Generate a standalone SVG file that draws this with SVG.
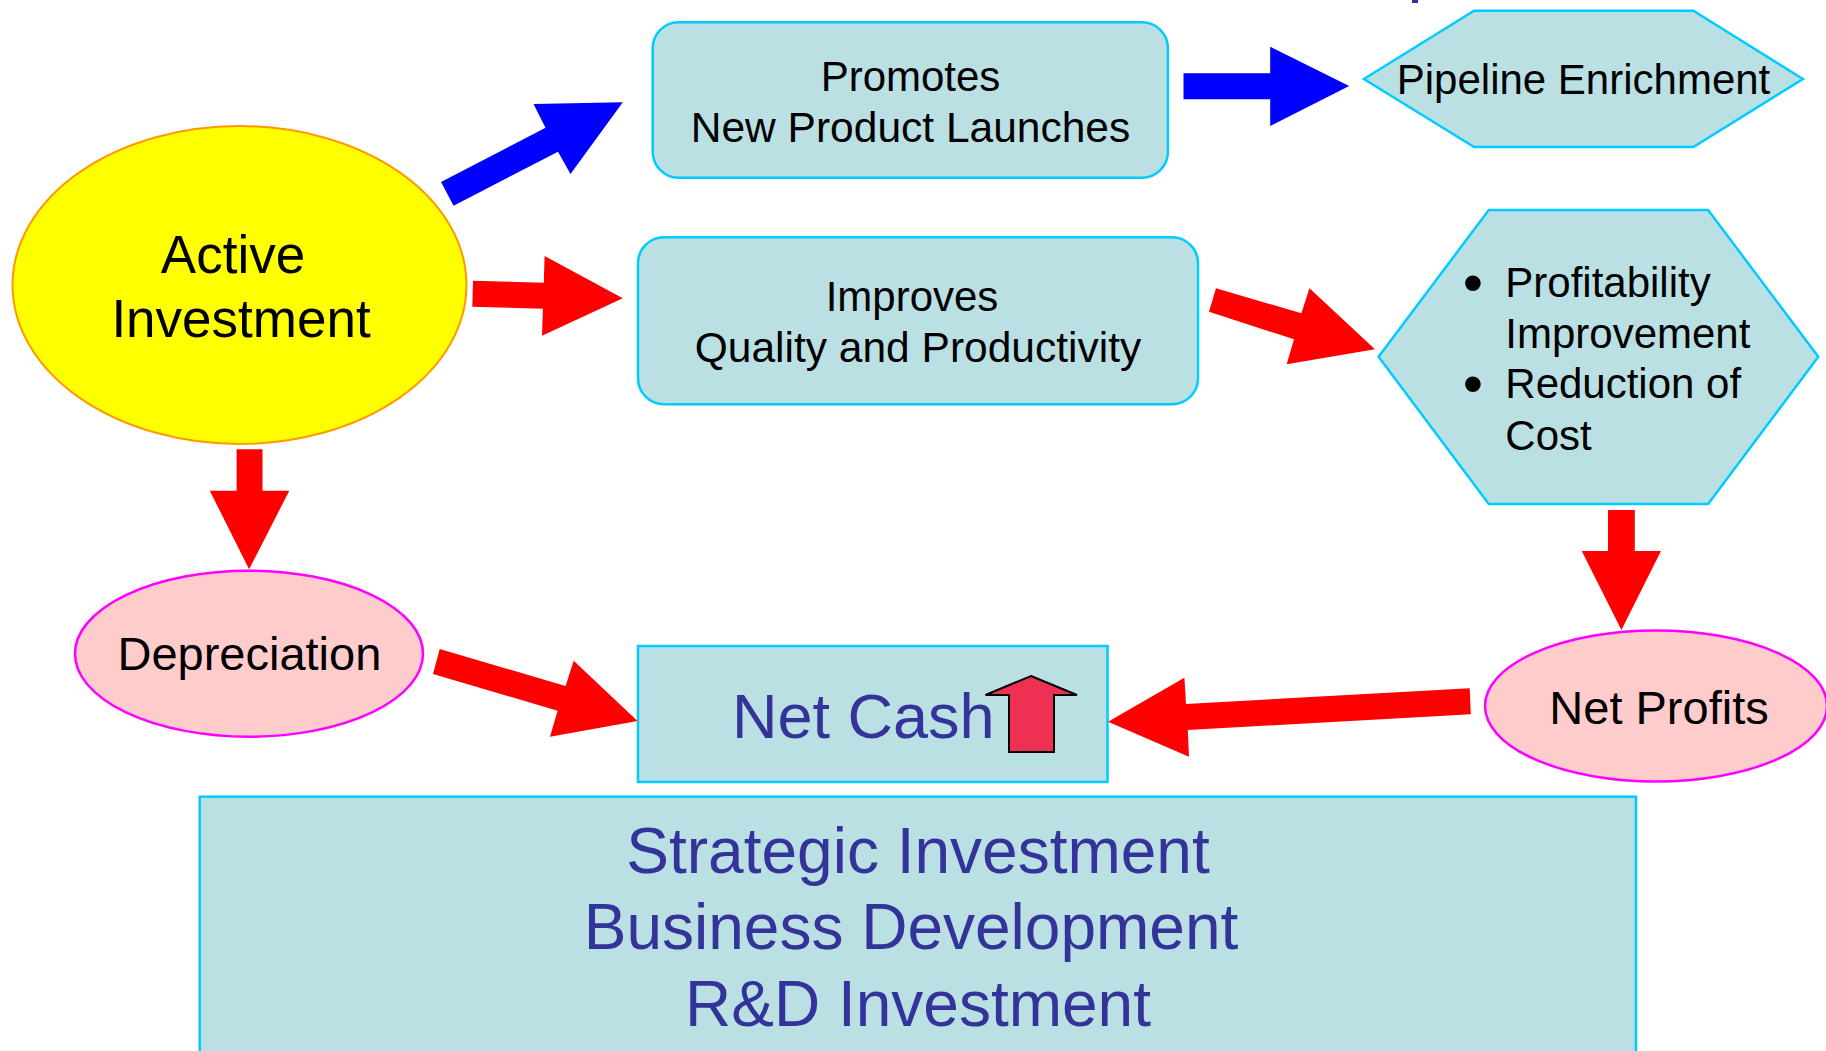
<svg xmlns="http://www.w3.org/2000/svg" width="1826" height="1051" viewBox="0 0 1826 1051">
<style>
.box{fill:#BBE0E3;stroke:#00CCFF;stroke-width:2.5}
.pink{fill:#FFCCCC;stroke:#FF00FF;stroke-width:2.5}
.t{font-family:"Liberation Sans",Arial,sans-serif;fill:#000}
.c{text-anchor:middle}
.navy{fill:#333399}
.red{fill:#FF0000}
.blue{fill:#0000FF}
</style>
<rect width="1826" height="1051" fill="#FFFFFF"/>
<rect x="1412" y="0" width="6" height="3" fill="#333399"/>
<g id="bottom-box">
<rect class="box" x="199.7" y="796.7" width="1436.3" height="300"/>
<text class="t c navy" font-size="64" x="918" y="872.7">Strategic Investment</text>
<text class="t c navy" font-size="64" x="911" y="949.3">Business Development</text>
<text class="t c navy" font-size="64" x="918" y="1026">R&amp;D Investment</text>
</g>
<g id="active-investment">
<ellipse cx="239.5" cy="285" rx="227" ry="159" fill="#FFFF00" stroke="#FF9900" stroke-width="2"/>
<text class="t c" font-size="53" x="233" y="273">Active</text>
<text class="t c" font-size="53" x="241" y="337">Investment</text>
</g>
<g id="promotes">
<rect class="box" x="652.7" y="22.3" width="515.2" height="155.4" rx="26"/>
<text class="t c" font-size="42" x="910.5" y="90.7">Promotes</text>
<text class="t c" font-size="42.5" x="910.5" y="141.7">New Product Launches</text>
</g>
<g id="improves">
<rect class="box" x="638" y="237.3" width="560" height="167" rx="26"/>
<text class="t c" font-size="42" x="912" y="311">Improves</text>
<text class="t c" font-size="42.5" x="918" y="362.3">Quality and Productivity</text>
</g>
<g id="pipeline">
<polygon class="box" points="1363.9,79 1474.1,10.7 1693.4,10.7 1802.9,79 1693.4,147 1474.1,147"/>
<text class="t c" font-size="42" x="1583.5" y="94.3">Pipeline Enrichment</text>
</g>
<g id="profitability">
<polygon class="box" points="1378.6,356.7 1488.8,210 1708.1,210 1818.3,356.7 1708.1,504 1488.8,504"/>
<text class="t c" font-size="58" x="1473" y="301.5">•</text>
<text class="t c" font-size="58" x="1473" y="403">•</text>
<text class="t" font-size="42" x="1505.3" y="296.7">Profitability</text>
<text class="t" font-size="42" x="1505.3" y="347.7">Improvement</text>
<text class="t" font-size="42" x="1505.3" y="398.3">Reduction of</text>
<text class="t" font-size="42" x="1505.3" y="450">Cost</text>
</g>
<g id="depreciation">
<ellipse class="pink" cx="249" cy="653.7" rx="174" ry="83"/>
<text class="t c" font-size="47" x="249.4" y="670">Depreciation</text>
</g>
<g id="net-cash">
<rect class="box" x="638" y="646" width="469.5" height="136"/>
<text class="t navy" font-size="63" x="732" y="737.7">Net Cash</text>
<polygon points="1031,676 1077,695 1054,695 1054,752 1009,752 1009,695 985.5,695" fill="#EE3152" stroke="#000" stroke-width="2"/>
</g>
<g id="net-profits">
<ellipse class="pink" cx="1656" cy="706" rx="171" ry="75.5"/>
<text class="t c" font-size="47" x="1659" y="724.3">Net Profits</text>
</g>
<g id="connectors">
<polygon class="blue" points="441,182 545.5,127.7 533.5,104 622.8,102.3 570.5,174 558,151.7 453.6,205.7"/>
<polygon class="red" points="473,280.7 543.8,282.7 544.6,256 622.8,298.3 542,335.7 542.9,308.7 472.3,306.7"/>
<polygon class="blue" points="1183.5,73.3 1270.2,73.3 1270.2,46.7 1349.2,86 1270.2,126 1270.2,99.3 1183.5,99.3"/>
<polygon class="red" points="1216,288.3 1301.4,313.3 1309.5,288.3 1374.9,349.3 1286.7,364.3 1294,339.3 1209,311.7"/>
<polygon class="red" points="236.6,449.3 262.5,449.3 262.5,490.7 289.3,490.7 249.1,569.3 209.8,490.7 236.6,490.7"/>
<polygon class="red" points="1608,510 1634.8,510 1634.8,551 1661,551 1621.4,630 1581.8,551 1608,551"/>
<polygon class="red" points="439.7,649 565.6,686 573.7,660.7 637.5,721 550,736.7 557.6,710.7 433,674"/>
<polygon class="red" points="1469.7,688.3 1186,704 1184.4,677.7 1108,721.7 1189,756.7 1187.8,730 1470.8,714.3"/>
</g>
</svg>
